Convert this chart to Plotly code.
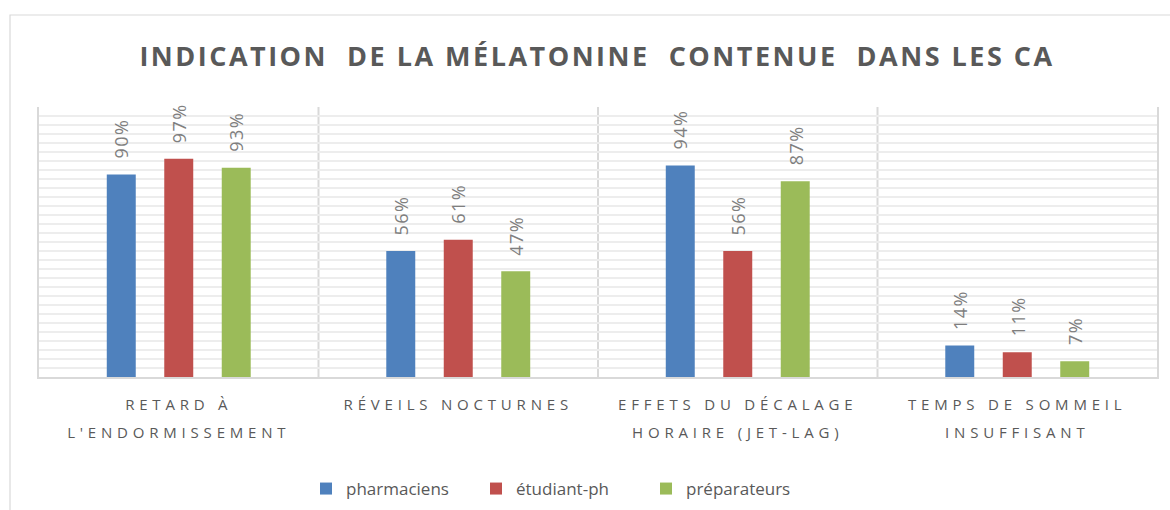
import plotly.graph_objects as go

categories = ["RETARD À<br>L'ENDORMISSEMENT", "RÉVEILS NOCTURNES",
              "EFFETS DU DÉCALAGE<br>HORAIRE (JET-LAG)", "TEMPS DE SOMMEIL<br>INSUFFISANT"]
series_names = ["pharmaciens", "étudiant-ph", "préparateurs"]
pharmaciens = [0.90, 0.56, 0.94, 0.14]
etudiant_ph = [0.97, 0.61, 0.56, 0.11]
preparateurs = [0.93, 0.47, 0.87, 0.07]
series_values = [pharmaciens, etudiant_ph, preparateurs]
colors = ["#4F81BD", "#C0504D", "#9BBB59"]
title_text = "INDICATION  DE LA MÉLATONINE  CONTENUE  DANS LES CA"

W, H = 1170, 510
ml, mr, mt, mb = 39, 13, 107, 133
pw, ph = W - ml - mr, H - mt - mb

fig = go.Figure()
for name, vals, col in zip(series_names, series_values, colors):
    fig.add_trace(go.Bar(name=name, x=categories, y=vals, marker_color=col,
                         marker_line_width=0))

# data labels (rotated), placed above each bar
slot = 57.5
for i, vals in enumerate(series_values):
    for cat, v in zip(categories, vals):
        fig.add_annotation(x=cat, y=v, xref="x", yref="y", text=f"{round(v*100)}%",
                           textangle=-90, showarrow=False, xanchor="center", yanchor="bottom",
                           xshift=(i - 1) * slot, yshift=16,
                           font=dict(family="Open Sans", size=18, color="#7F7F7F"))

shapes = []
for xb in [0.5, 1.5, 2.5]:
    shapes.append(dict(type="line", xref="x", yref="y", x0=xb, x1=xb, y0=0, y1=1.2,
                       line=dict(color="#D9D9D9", width=2), layer="below"))
# outer chart border
shapes.append(dict(type="rect", xref="paper", yref="paper",
                   x0=(10 - ml) / pw, x1=1.1, y0=-1.0, y1=(H - mb - 15) / ph,
                   line=dict(color="#D9D9D9", width=1.2), fillcolor="rgba(0,0,0,0)", layer="below"))

fig.update_layout(
    width=W, height=H,
    margin=dict(l=ml, r=mr, t=mt, b=mb, autoexpand=False),
    paper_bgcolor="white", plot_bgcolor="white",
    barmode="group", bargap=0.383, bargroupgap=0.496,
    title=dict(text=title_text, x=(597) / W, xanchor="center", y=1 - 57 / H, yanchor="middle",
               font=dict(family="Open Sans", size=27, color="#595959", weight="bold")),
    showlegend=True,
    legend=dict(orientation="h", x=(306 - ml) / pw, xanchor="left", y=(H - mb - 489) / ph,
                yanchor="middle", font=dict(family="Open Sans", size=17, color="#595959"),
                itemwidth=30, entrywidth=125, entrywidthmode="pixels",
                bgcolor="rgba(0,0,0,0)"),
    shapes=shapes,
    font=dict(family="Open Sans", color="#595959"),
)
fig.update_xaxes(showline=True, linecolor="#D9D9D9", linewidth=2, showgrid=False, automargin=False,
                 tickfont=dict(family="Open Sans", size=15, color="#595959"),
                 ticks="outside", ticklen=13, tickcolor="rgba(0,0,0,0)")
fig.update_yaxes(range=[0, 1.2], dtick=0.04, showticklabels=False, showgrid=True, automargin=False,
                 gridcolor="#EDEDED", gridwidth=2, zeroline=False,
                 showline=True, mirror=True, linecolor="#D9D9D9", linewidth=2, ticks="")

post = """
document.body.style.margin = '0';
document.body.style.padding = '0';
var gd = document.getElementById('{plot_id}');
function fixText(){
  gd.querySelectorAll('.gtitle').forEach(function(e){ e.style.letterSpacing='2.5px'; });
  gd.querySelectorAll('.annotation-text').forEach(function(e){ e.style.letterSpacing='1.5px'; });
  gd.querySelectorAll('.xtick text').forEach(function(e){
    e.style.letterSpacing='4.8px';
    var ls = e.querySelectorAll('tspan.line');
    ls.forEach(function(s,i){ if(i>0){ s.setAttribute('dy','28px'); } });
  });
}
fixText();
gd.on('plotly_afterplot', fixText);
"""
fig.write_html("out.html", post_script=post, config={"displayModeBar": False})
